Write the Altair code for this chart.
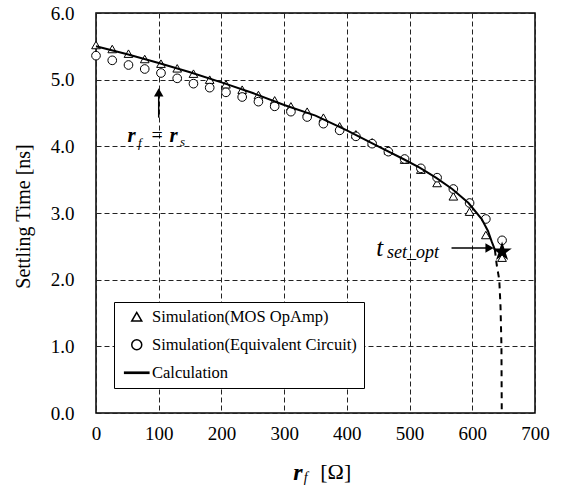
import altair as alt
import pandas as pd

# ---------------- data ----------------
rf_sim = [0, 25.9, 51.8, 77.7, 103.6, 129.5, 155.4, 181.3, 207.2, 233.1, 259.0, 284.9, 310.8,
          336.7, 362.6, 388.5, 414.4, 440.3, 466.2, 492.1, 518.0, 543.9, 569.8, 595.7, 621.6, 647.5]
t_mos = [5.52, 5.46, 5.39, 5.31, 5.24, 5.17, 5.09, 5.00, 4.93, 4.85, 4.77, 4.69, 4.60,
         4.52, 4.43, 4.30, 4.18, 4.06, 3.94, 3.80, 3.65, 3.45, 3.25, 3.02, 2.67, 2.33]
t_equiv = [5.36, 5.29, 5.22, 5.16, 5.10, 5.02, 4.94, 4.88, 4.81, 4.74, 4.67, 4.60, 4.52,
           4.44, 4.34, 4.24, 4.15, 4.04, 3.92, 3.81, 3.67, 3.53, 3.36, 3.15, 2.91, 2.59]

calc_rf = [0, 50, 100, 150, 200, 250, 300, 350, 400, 450, 490, 516, 542, 568, 594, 615, 625, 631, 636]
calc_t = [5.50, 5.38, 5.25, 5.11, 4.96, 4.80, 4.62, 4.46, 4.24, 4.00, 3.81, 3.68, 3.53, 3.36,
          3.15, 2.91, 2.73, 2.57, 2.45]
calc_dash_rf = [636, 639, 643, 645, 646.5, 647]
calc_dash_t = [2.45, 2.22, 2.00, 1.60, 1.00, 0.00]

opt_rf = [647.5]
opt_t = [2.42]

series_names = ["Simulation(MOS OpAmp)", "Simulation(Equivalent Circuit)", "Calculation"]
x_ticks = [0, 100, 200, 300, 400, 500, 600, 700]
y_ticks = [0, 1, 2, 3, 4, 5, 6]

# ---------------- tables ----------------
pts = pd.DataFrame({
    "rf": rf_sim + rf_sim,
    "t": t_mos + t_equiv,
    "series": [series_names[0]] * len(rf_sim) + [series_names[1]] * len(rf_sim),
})
calc = pd.DataFrame({"rf": calc_rf, "t": calc_t})
calc_dash = pd.DataFrame({"rf": calc_dash_rf, "t": calc_dash_t})
opt = pd.DataFrame({"rf": opt_rf, "t": opt_t})

SERIF = "Liberation Serif"

X = alt.X("rf:Q", scale=alt.Scale(domain=[0, 700], nice=False, zero=False),
          axis=alt.Axis(values=x_ticks, title=None, labelPadding=11))
Y = alt.Y("t:Q", scale=alt.Scale(domain=[0, 6], nice=False),
          axis=alt.Axis(values=y_ticks, format=".1f", title="Settling Time [ns]",
                        labelPadding=22, titleX=-73, titleY=203, titleAngle=-90,
                        titleBaseline="middle", titleAlign="center"))

legend = alt.Legend(title=None, orient="none", legendX=18, legendY=289,
                    direction="vertical", strokeColor="black", fillColor="white",
                    padding=6.5, symbolOffset=8, labelOffset=7, rowPadding=11,
                    labelFont=SERIF, labelFontSize=16.5, labelColor="black",
                    labelLimit=400)

# legend line sample for "Calculation": a thin outlined bar reads as a 2px line
line_glyph = "M-2.42,-0.12L2.42,-0.12L2.42,0.12L-2.42,0.12Z"

points = alt.Chart(pts).mark_point(filled=False, fill="white", fillOpacity=1,
                                   opacity=1, size=75, strokeWidth=1).encode(
    x=X, y=Y,
    color=alt.Color("series:N", scale=alt.Scale(domain=series_names,
                    range=["black", "black", "black"]), legend=legend),
    shape=alt.Shape("series:N", scale=alt.Scale(domain=series_names,
                    range=["triangle-up", "circle", line_glyph]), legend=legend),
)

calc_line = alt.Chart(calc).mark_line(color="black", strokeWidth=2).encode(x=X, y=Y)
calc_dashed = alt.Chart(calc_dash).mark_line(color="black", strokeWidth=2,
                                             strokeDash=[6, 5]).encode(x=X, y=Y)

star_path = ("M0,-1L0.225,-0.309L0.951,-0.309L0.363,0.118L0.588,0.809L0,0.382"
             "L-0.588,0.809L-0.363,0.118L-0.951,-0.309L-0.225,-0.309Z")
star = alt.Chart(opt).mark_point(shape=star_path, filled=True, color="black",
                                 size=420, opacity=1).encode(x=X, y=Y)


def txt(s, xv, yv, size, style="normal", weight="normal"):
    return alt.Chart().mark_text(text=s, align="left", baseline="alphabetic",
                                 font=SERIF, fontSize=size, fontStyle=style,
                                 fontWeight=weight, color="black").encode(
        x=alt.datum(xv), y=alt.datum(yv))


# arrow at r_f = r_s
arrow1_shaft = alt.Chart().mark_rule(color="black", strokeWidth=1.5).encode(
    x=alt.datum(100), y=alt.datum(4.43), y2=alt.datum(4.80))
arrow1_head = alt.Chart().mark_point(shape="triangle-up", filled=True, color="black",
                                     size=90, opacity=1).encode(
    x=alt.datum(100), y=alt.datum(4.81))
# arrow to t_set_opt
arrow2_shaft = alt.Chart().mark_rule(color="black", strokeWidth=1.5).encode(
    x=alt.datum(566.9), x2=alt.datum(626), y=alt.datum(2.474))
arrow2_head = alt.Chart().mark_point(shape="triangle-right", filled=True, color="black",
                                     size=90, opacity=1).encode(
    x=alt.datum(627.5), y=alt.datum(2.474))

labels = [
    txt("r", 50.2, 4.07, 21, "italic", "bold"),
    txt("f", 66.9, 3.99, 13, "italic"),
    txt("=", 88.4, 4.07, 20),
    txt("r", 117.0, 4.07, 21, "italic", "bold"),
    txt("s", 133.8, 4.01, 13, "italic"),
    txt("t", 446.7, 2.36, 25, "italic"),
    txt("set_opt", 464.2, 2.33, 18, "italic"),
    txt("r", 314.5, -1.0, 24, "italic", "bold"),
    txt("f", 331.2, -1.03, 14, "italic"),
    txt("[Ω]", 357.5, -0.99, 22),
]

chart = alt.layer(
    points, calc_line, calc_dashed, star,
    arrow1_shaft, arrow1_head, arrow2_shaft, arrow2_head, *labels
).properties(
    width=439, height=400,
    background="white",
    autosize=alt.AutoSizeParams(type="none"),
    padding={"left": 96, "top": 13, "right": 27, "bottom": 72},
).configure_view(
    stroke="black", strokeWidth=1.5
).configure_axis(
    grid=True, gridDash=[5, 3], gridColor="#222222", gridWidth=1, gridOpacity=1,
    domain=False, ticks=False, labelFont=SERIF, labelFontSize=19, labelColor="black",
    titleFont=SERIF, titleFontSize=20, titleFontWeight="normal", titleColor="black",
    labelFlush=False,
)

chart.save("out.html", embed_options={"renderer": "svg", "actions": False})
